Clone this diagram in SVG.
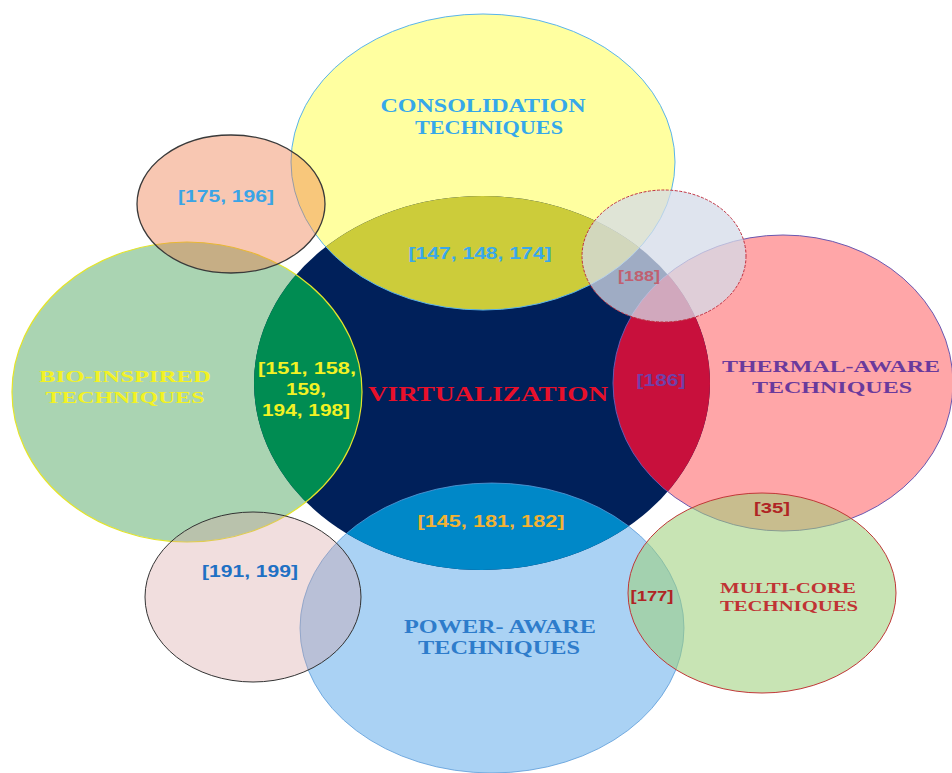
<svg xmlns="http://www.w3.org/2000/svg" width="952" height="773" viewBox="0 0 952 773">
  <style>
    .ser { font-family: "Liberation Serif", "Times New Roman", serif; font-weight: bold; text-anchor: middle; }
    .san { font-family: "Liberation Sans", Arial, sans-serif; font-weight: bold; text-anchor: middle; }
    .ring { fill: none; }
  </style>
  <defs>
    <clipPath id="clipCore">
      <ellipse cx="482" cy="383" rx="228" ry="187"/>
    </clipPath>
  </defs>

  <rect width="952" height="773" fill="#ffffff"/>

  <!-- large technique ellipses -->
  <g id="consolidation">
    <ellipse cx="483" cy="162" rx="192" ry="148" fill="#ffffa0"/>
  </g>
  <g id="bio-inspired">
    <ellipse cx="187" cy="392" rx="175" ry="150" fill="#aad4b2"/>
  </g>
  <g id="thermal-aware">
    <ellipse cx="783" cy="383" rx="170" ry="148" fill="#ffa6a8"/>
  </g>
  <g id="power-aware">
    <ellipse cx="492" cy="628" rx="192" ry="145" fill="#aad2f4"/>
  </g>

  <!-- central virtualization disc and its overlaps -->
  <g id="virtualization">
    <ellipse cx="482" cy="383" rx="228" ry="187" fill="#00205a"/>
    <g clip-path="url(#clipCore)">
      <ellipse cx="483" cy="162" rx="192" ry="148" fill="#cccc3a"/>
      <ellipse cx="187" cy="392" rx="175" ry="150" fill="#008c52"/>
      <ellipse cx="783" cy="383" rx="170" ry="148" fill="#c8103c"/>
      <ellipse cx="492" cy="628" rx="192" ry="145" fill="#0088c8"/>
    </g>
  </g>

  <!-- outlines of the large ellipses -->
  <g id="outlines">
    <ellipse class="ring" cx="483" cy="162" rx="192" ry="148" stroke="#5ab4ec" stroke-width="1"/>
    <ellipse class="ring" cx="187" cy="392" rx="175" ry="150" stroke="#e4e42a" stroke-width="1.2"/>
    <ellipse class="ring" cx="783" cy="383" rx="170" ry="148" stroke="#6a58b0" stroke-width="1"/>
    <ellipse class="ring" cx="492" cy="628" rx="192" ry="145" stroke="#5a9ad8" stroke-width="0.8"/>
  </g>

  <!-- small reference ellipses -->
  <g id="ref-175-196">
    <ellipse cx="231" cy="204" rx="94" ry="69" fill="#ef7a48" fill-opacity="0.42" stroke="#3a3a3a" stroke-width="1.3"/>
  </g>
  <g id="ref-188">
    <ellipse cx="664" cy="256" rx="82" ry="66" fill="#d4dbe8" fill-opacity="0.75" stroke="#c03040" stroke-width="1" stroke-dasharray="3 1.5"/>
  </g>
  <g id="ref-191-199">
    <ellipse cx="253" cy="597" rx="108" ry="85" fill="#d8a0a0" fill-opacity="0.35" stroke="#333333" stroke-width="1"/>
  </g>
  <g id="multi-core">
    <ellipse cx="762" cy="593" rx="134" ry="100" fill="#9ecf7b" fill-opacity="0.57" stroke="#c03838" stroke-width="1"/>
  </g>

  <!-- labels -->
  <g id="labels">
    <text class="ser" x="483" y="112" font-size="18" fill="#36a8ea" textLength="205" lengthAdjust="spacingAndGlyphs">CONSOLIDATION</text>
    <text class="ser" x="489" y="134" font-size="18" fill="#36a8ea" textLength="148" lengthAdjust="spacingAndGlyphs">TECHNIQUES</text>

    <text class="san" x="226" y="202" font-size="16" fill="#3aa4e6" textLength="96" lengthAdjust="spacingAndGlyphs">[175, 196]</text>
    <text class="san" x="480" y="259" font-size="16" fill="#3aa8ea" textLength="143" lengthAdjust="spacingAndGlyphs">[147, 148, 174]</text>
    <text class="san" x="639" y="281" font-size="14" fill="#c06070" textLength="42" lengthAdjust="spacingAndGlyphs">[188]</text>

    <text class="ser" x="125" y="382" font-size="17" fill="#f2f224" textLength="172" lengthAdjust="spacingAndGlyphs">BIO-INSPIRED</text>
    <text class="ser" x="125" y="403" font-size="17" fill="#f2f224" textLength="159" lengthAdjust="spacingAndGlyphs">TECHNIQUES</text>

    <text class="san" x="307" y="374" font-size="17" fill="#f2f224" textLength="98" lengthAdjust="spacingAndGlyphs">[151, 158,</text>
    <text class="san" x="306" y="395" font-size="17" fill="#f2f224" textLength="40" lengthAdjust="spacingAndGlyphs">159,</text>
    <text class="san" x="306" y="416" font-size="17" fill="#f2f224" textLength="88" lengthAdjust="spacingAndGlyphs">194, 198]</text>

    <text class="ser" x="488" y="401" font-size="22" fill="#e8102a" textLength="240" lengthAdjust="spacingAndGlyphs">VIRTUALIZATION</text>

    <text class="san" x="661" y="386" font-size="16" fill="#7040a8" textLength="49" lengthAdjust="spacingAndGlyphs">[186]</text>
    <text class="ser" x="831" y="372" font-size="17" fill="#6a3a9c" textLength="218" lengthAdjust="spacingAndGlyphs">THERMAL-AWARE</text>
    <text class="ser" x="832" y="393" font-size="17" fill="#6a3a9c" textLength="160" lengthAdjust="spacingAndGlyphs">TECHNIQUES</text>

    <text class="san" x="491" y="527" font-size="16" fill="#f2b232" textLength="147" lengthAdjust="spacingAndGlyphs">[145, 181, 182]</text>
    <text class="san" x="250" y="577" font-size="16" fill="#2070c4" textLength="96" lengthAdjust="spacingAndGlyphs">[191, 199]</text>

    <text class="san" x="772" y="513" font-size="15" fill="#b02424" textLength="36" lengthAdjust="spacingAndGlyphs">[35]</text>
    <text class="san" x="652" y="601" font-size="14" fill="#b02424" textLength="43" lengthAdjust="spacingAndGlyphs">[177]</text>
    <text class="ser" x="788" y="593" font-size="14" fill="#c03434" textLength="136" lengthAdjust="spacingAndGlyphs">MULTI-CORE</text>
    <text class="ser" x="789" y="611" font-size="14" fill="#c03434" textLength="138" lengthAdjust="spacingAndGlyphs">TECHNIQUES</text>

    <text class="ser" x="500" y="633" font-size="18" fill="#2e7ccb" textLength="192" lengthAdjust="spacingAndGlyphs">POWER- AWARE</text>
    <text class="ser" x="499" y="654" font-size="18" fill="#2e7ccb" textLength="162" lengthAdjust="spacingAndGlyphs">TECHNIQUES</text>
  </g>
</svg>
